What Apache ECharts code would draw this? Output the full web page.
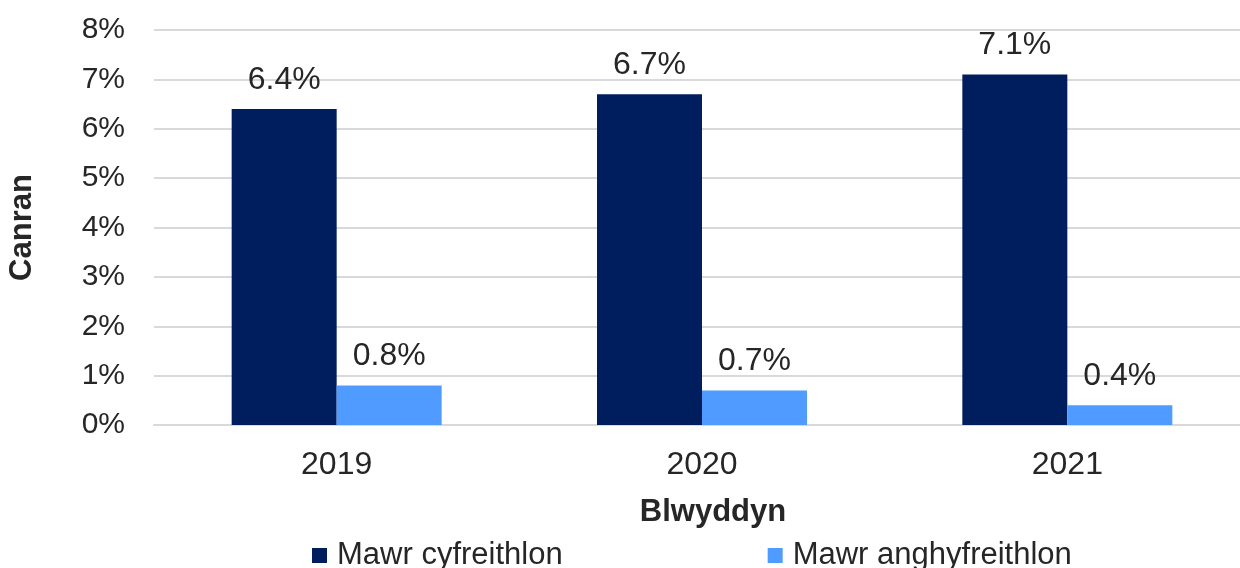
<!DOCTYPE html>
<html>
<head>
<meta charset="utf-8">
<script src="https://cdn.jsdelivr.net/npm/echarts@6/dist/echarts.min.js"></script>
<style>
  html, body { margin: 0; padding: 0; background: #fff; }
  #chart { width: 1240px; height: 568px; }
</style>
</head>
<body>
<div id="chart"></div>
<script>
const years = ['2019', '2020', '2021'];
const seriesNames = ['Mawr cyfreithlon', 'Mawr anghyfreithlon'];
const legalValues = [6.4, 6.7, 7.1];
const illegalValues = [0.8, 0.7, 0.4];
const yTicks = [0, 1, 2, 3, 4, 5, 6, 7, 8];

const chart = echarts.init(document.getElementById('chart'));
const font = 'Liberation Sans, Arial, sans-serif';
const textColor = '#262626';

const labelStyle = {
    show: true,
    position: 'top',
    distance: 13,
    color: textColor,
    fontFamily: font,
    fontSize: 32,
    formatter: p => p.value.toFixed(1) + '%',
};

const option = {
    animation: false,
    textStyle: { fontFamily: font },
    grid: { left: 154, top: 30, width: 1096, height: 395, outerBoundsMode: 'none', containLabel: false },
    legend: {
        data: seriesNames,
        left: 312,
        top: 540,
        itemWidth: 15,
        itemHeight: 15,
        itemGap: 205,
        icon: 'rect',
        padding: 0,
        textStyle: { color: textColor, fontFamily: font, fontSize: 31, padding: [0, 0, 0, 5] },
    },
    xAxis: {
        type: 'category',
        data: years,
        name: 'Blwyddyn',
        nameLocation: 'middle',
        nameGap: 72,
        nameTextStyle: { color: textColor, fontSize: 31, fontWeight: 'bold', fontFamily: font, padding: [0, 0, 0, 22] },
        axisLine: { lineStyle: { color: '#d9d9d9', width: 2 } },
        axisTick: { show: false },
        axisLabel: { color: textColor, fontSize: 32, margin: 24, fontFamily: font },
    },
    yAxis: {
        type: 'value',
        min: yTicks[0],
        max: yTicks[yTicks.length - 1],
        interval: 1,
        name: 'Canran',
        nameLocation: 'middle',
        nameGap: 116,
        nameRotate: 90,
        nameTextStyle: { color: textColor, fontSize: 31, fontWeight: 'bold', fontFamily: font },
        axisLine: { show: false },
        axisTick: { show: false },
        splitLine: { lineStyle: { color: '#d9d9d9', width: 2 } },
        axisLabel: { color: textColor, fontSize: 30, margin: 29, fontFamily: font, formatter: v => v + '%' },
    },
    series: [
        {
            name: seriesNames[0],
            type: 'bar',
            data: legalValues,
            barWidth: 105,
            barGap: '0%',
            itemStyle: { color: '#001e5e' },
            label: labelStyle,
        },
        {
            name: seriesNames[1],
            type: 'bar',
            data: illegalValues,
            barWidth: 105,
            itemStyle: { color: '#4f9bff' },
            label: labelStyle,
        },
    ],
};

chart.setOption(option);
</script>
</body>
</html>
